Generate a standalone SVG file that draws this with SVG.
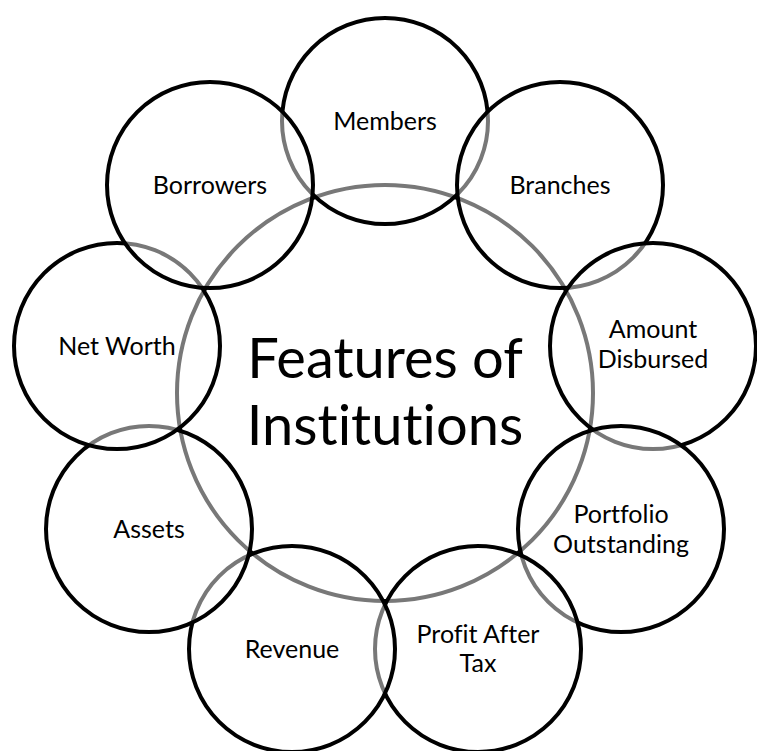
<svg xmlns="http://www.w3.org/2000/svg" width="757" height="751" viewBox="0 0 757 751">
<style>
.c{fill:#ffffff;fill-opacity:0.47;stroke:#000;stroke-width:4}
text{font-variant-ligatures:none;font-feature-settings:"liga" 0,"clig" 0}
.l{font-family:Lato,"Liberation Sans",Arial,sans-serif;font-size:25px;fill:#000;text-anchor:middle}
.m{font-family:Lato,"Liberation Sans",Arial,sans-serif;font-size:56px;fill:#000;text-anchor:middle}
</style>
<rect width="757" height="751" fill="#fff"/>
<g id="center">
<circle class="c" cx="385" cy="393" r="208" fill-opacity="1"/>
<text class="m" x="385" y="378">Features of</text>
<text class="m" x="385" y="445">Institutions</text>
</g>
<g id="members"><circle class="c" cx="385" cy="121" r="103"/><text class="l" x="385" y="130">Members</text></g>
<g id="branches"><circle class="c" cx="560" cy="185" r="103"/><text class="l" x="560" y="194">Branches</text></g>
<g id="amount-disbursed"><circle class="c" cx="653" cy="346" r="103"/><text class="l" x="653" y="338">Amount</text><text class="l" x="653" y="368">Disbursed</text></g>
<g id="portfolio-outstanding"><circle class="c" cx="621" cy="529" r="103"/><text class="l" x="621" y="523">Portfolio</text><text class="l" x="621" y="553">Outstanding</text></g>
<g id="profit-after-tax"><circle class="c" cx="478" cy="649" r="103"/><text class="l" x="478" y="643">Profit After</text><text class="l" x="478" y="672">Tax</text></g>
<g id="revenue"><circle class="c" cx="292" cy="649" r="103"/><text class="l" x="292" y="658">Revenue</text></g>
<g id="assets"><circle class="c" cx="149" cy="529" r="103"/><text class="l" x="149" y="538">Assets</text></g>
<g id="net-worth"><circle class="c" cx="117" cy="346" r="103"/><text class="l" x="117" y="355">Net Worth</text></g>
<g id="borrowers"><circle class="c" cx="210" cy="185" r="103"/><text class="l" x="210" y="194">Borrowers</text></g>
</svg>
